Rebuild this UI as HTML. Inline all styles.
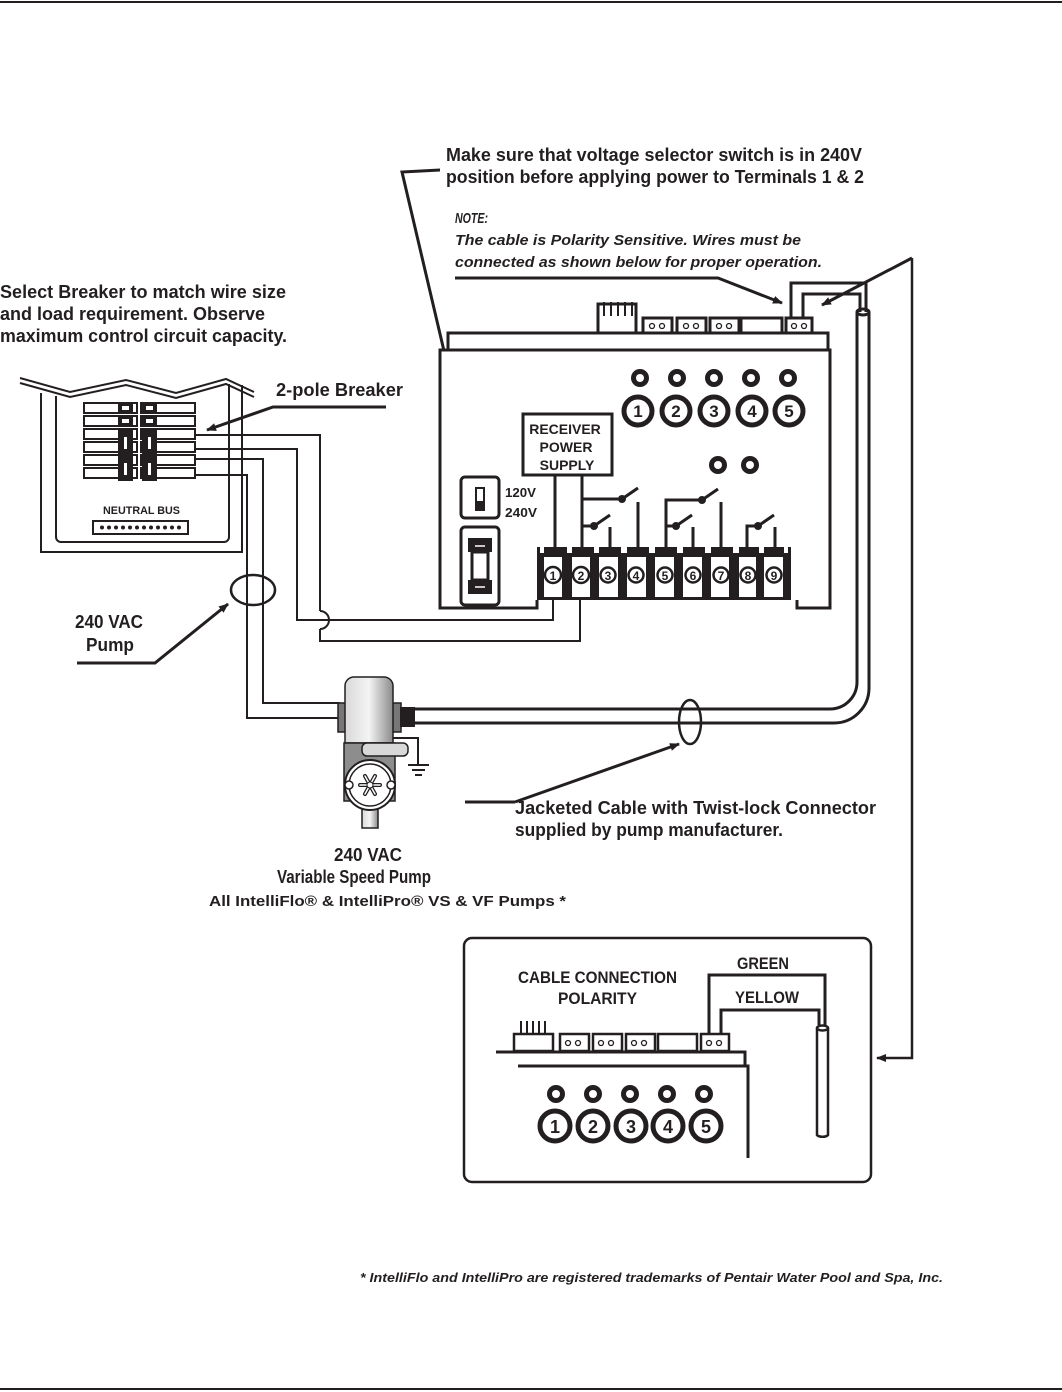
<!DOCTYPE html>
<html><head><meta charset="utf-8"><style>
html,body{margin:0;padding:0;background:#fff}
svg{display:block}
text{font-family:"Liberation Sans Narrow","Liberation Sans",sans-serif;font-weight:bold;fill:#231f20}
</style></head><body>
<svg width="1062" height="1392" viewBox="0 0 1062 1392" xmlns="http://www.w3.org/2000/svg">
<defs>
<marker id="ar" markerWidth="10" markerHeight="8" refX="9" refY="4" orient="auto" markerUnits="userSpaceOnUse"><path d="M0,0 L10,4 L0,8 Z" fill="#231f20"/></marker>
<linearGradient id="pg" x1="0" x2="1"><stop offset="0" stop-color="#d9d9d9"/><stop offset="0.5" stop-color="#f4f4f4"/><stop offset="1" stop-color="#8a8a8a"/></linearGradient>
</defs>
<g stroke="#231f20" fill="none">
<line x1="0" y1="2" x2="1062" y2="2" stroke-width="2"/>
<line x1="0" y1="1389" x2="1062" y2="1389" stroke-width="2"/>
</g>

<text x="446" y="161" font-size="18" textLength="416" lengthAdjust="spacingAndGlyphs">Make sure that voltage selector switch is in 240V</text>
<text x="446" y="183" font-size="18" textLength="418" lengthAdjust="spacingAndGlyphs">position before applying power to Terminals 1 &amp; 2</text>
<text x="455" y="223" font-size="15" font-style="italic" textLength="33" lengthAdjust="spacingAndGlyphs">NOTE:</text>
<text x="455" y="245" font-size="15" font-style="italic" textLength="346" lengthAdjust="spacingAndGlyphs">The cable is Polarity Sensitive. Wires must be</text>
<text x="455" y="267" font-size="15" font-style="italic" textLength="367" lengthAdjust="spacingAndGlyphs">connected as shown below for proper operation.</text>
<text x="0" y="298" font-size="18" textLength="286" lengthAdjust="spacingAndGlyphs">Select Breaker to match wire size</text>
<text x="0" y="320" font-size="18" textLength="265" lengthAdjust="spacingAndGlyphs">and load requirement.  Observe</text>
<text x="0" y="342" font-size="18" textLength="287" lengthAdjust="spacingAndGlyphs">maximum control circuit capacity.</text>
<text x="276" y="396" font-size="18" textLength="127" lengthAdjust="spacingAndGlyphs">2-pole Breaker</text>

<g stroke="#231f20" fill="none" stroke-width="3">
<polyline points="440,170 402,172 471,466" marker-end="url(#ar)"/>
<polyline points="455,278 718,278 782,303" marker-end="url(#ar)"/>
<line x1="912" y1="258" x2="822" y2="305" marker-end="url(#ar)"/>
<polyline points="912,258 912,1058 877,1058" marker-end="url(#ar)" stroke-width="2.5"/>
<polyline points="386,407 273,407 207,430" marker-end="url(#ar)"/>
<polyline points="77,663 155,663 228,604" marker-end="url(#ar)"/>
<polyline points="465,802 515,802" />
<line x1="515" y1="802" x2="679" y2="744" marker-end="url(#ar)"/>
</g>

<g stroke="#231f20" fill="none" stroke-width="2">
<polyline points="20,378 70,392 126,380 176,393 226,379 254,392"/>
<polyline points="20,383 70,397 126,385 176,398 226,384 254,397"/>
<polyline points="41,393 41,552 242,552 242,385"/>
<path d="M56,396 V537 a5,5 0 0 0 5,5 H224 a5,5 0 0 0 5,-5 V384"/>
<rect x="93" y="521" width="95" height="13"/>
</g>
<text x="103" y="514" font-size="11" font-family="Liberation Sans" textLength="77" lengthAdjust="spacingAndGlyphs">NEUTRAL BUS</text>
<g fill="#231f20">
<circle cx="102" cy="527.5" r="2"/><circle cx="109" cy="527.5" r="2"/><circle cx="116" cy="527.5" r="2"/><circle cx="123" cy="527.5" r="2"/><circle cx="130" cy="527.5" r="2"/><circle cx="137" cy="527.5" r="2"/><circle cx="144" cy="527.5" r="2"/><circle cx="151" cy="527.5" r="2"/><circle cx="158" cy="527.5" r="2"/><circle cx="165" cy="527.5" r="2"/><circle cx="172" cy="527.5" r="2"/><circle cx="179" cy="527.5" r="2"/>
</g>
<g stroke="#231f20" fill="#fff" stroke-width="2">
<rect x="84" y="403" width="53" height="10"/><rect x="84" y="416" width="53" height="10"/><rect x="84" y="429" width="53" height="10"/><rect x="84" y="442" width="53" height="10"/><rect x="84" y="455" width="53" height="10"/><rect x="84" y="468" width="53" height="10"/>
<rect x="141" y="403" width="54" height="10"/><rect x="141" y="416" width="54" height="10"/><rect x="141" y="429" width="54" height="10"/><rect x="141" y="442" width="54" height="10"/><rect x="141" y="455" width="54" height="10"/><rect x="141" y="468" width="54" height="10"/>
</g>
<g fill="#231f20">
<rect x="118" y="403" width="15" height="10"/><rect x="142" y="403" width="15" height="10"/>
<rect x="118" y="416" width="15" height="10"/><rect x="142" y="416" width="15" height="10"/>
<rect x="118" y="429" width="15" height="52"/><rect x="142" y="429" width="15" height="52"/>
</g>
<g fill="#fff"><rect x="122" y="406" width="7" height="4"/><rect x="146" y="406" width="7" height="4"/><rect x="122" y="419" width="7" height="4"/><rect x="146" y="419" width="7" height="4"/>
<rect x="124" y="437" width="3" height="12"/><rect x="148" y="437" width="3" height="12"/><rect x="124" y="463" width="3" height="12"/><rect x="148" y="463" width="3" height="12"/></g>

<g stroke="#231f20" fill="none" stroke-width="2">
<polyline points="196,435 320,435 320,611"/>
<path d="M320,629 V641 H580 V600"/>
<path d="M320,611 a9,9 0 0 1 0,18"/>
<polyline points="196,449 297,449 297,620 553,620 553,600"/>
<polyline points="196,459 263,459 263,703 340,703"/>
<polyline points="196,475 247,475 247,718 340,718"/>
<ellipse cx="253" cy="590" rx="22" ry="15" stroke-width="2.5"/>
</g>
<text x="109" y="628" font-size="18" text-anchor="middle" textLength="68" lengthAdjust="spacingAndGlyphs">240 VAC</text>
<text x="110" y="651" font-size="18" text-anchor="middle" textLength="48" lengthAdjust="spacingAndGlyphs">Pump</text>

<g stroke="#231f20" fill="#fff" stroke-width="3">
<rect x="448" y="333" width="380" height="17"/>
<polyline points="537,600 537,608 440,608 440,350 830,350 830,608 797,608 797,600"/>
<rect x="598" y="304" width="38" height="29"/>
<rect x="643" y="318" width="29" height="15"/>
<rect x="677" y="318" width="29" height="15"/>
<rect x="710" y="318" width="29" height="15"/>
<rect x="741" y="318" width="41" height="15"/>
<rect x="786" y="318" width="26" height="15"/>
</g>
<g stroke="#231f20" stroke-width="2">
<line x1="604" y1="302" x2="604" y2="316"/><line x1="611" y1="302" x2="611" y2="316"/><line x1="618" y1="302" x2="618" y2="316"/><line x1="625" y1="302" x2="625" y2="316"/><line x1="632" y1="302" x2="632" y2="316"/>
</g>
<g stroke="#231f20" fill="#fff" stroke-width="1.3">
<circle cx="652" cy="326" r="2.5"/><circle cx="662" cy="326" r="2.5"/><circle cx="686" cy="326" r="2.5"/><circle cx="696" cy="326" r="2.5"/><circle cx="719" cy="326" r="2.5"/><circle cx="729" cy="326" r="2.5"/><circle cx="794" cy="326" r="2.5"/><circle cx="804" cy="326" r="2.5"/>
</g>
<g stroke="#231f20" fill="none" stroke-width="3">
<polyline points="791,318 791,283 866,283 866,312"/>
<polyline points="803,318 803,294 860,294 860,312"/>
<path d="M857,312 V682 a27,27 0 0 1 -27,27 H415"/>
<path d="M869,312 V688 a35,35 0 0 1 -35,35 H415"/>
<ellipse cx="863" cy="312" rx="6" ry="3"/>
<ellipse cx="690" cy="722" rx="11" ry="22" stroke-width="2.5"/>
</g>
<g fill="#231f20">
<circle cx="640" cy="378" r="9"/><circle cx="677" cy="378" r="9"/><circle cx="714" cy="378" r="9"/><circle cx="751" cy="378" r="9"/><circle cx="788" cy="378" r="9"/>
<circle cx="718" cy="465" r="9"/><circle cx="750" cy="465" r="9"/>
</g>
<g fill="#fff">
<circle cx="640" cy="378" r="4"/><circle cx="677" cy="378" r="4"/><circle cx="714" cy="378" r="4"/><circle cx="751" cy="378" r="4"/><circle cx="788" cy="378" r="4"/>
<circle cx="718" cy="465" r="4"/><circle cx="750" cy="465" r="4"/>
</g>
<g stroke="#231f20" fill="#fff" stroke-width="5">
<circle cx="638" cy="411" r="14"/><circle cx="676" cy="411" r="14"/><circle cx="714" cy="411" r="14"/><circle cx="752" cy="411" r="14"/><circle cx="789" cy="411" r="14"/>
</g>
<g font-size="17" text-anchor="middle"><text x="638" y="417">1</text><text x="676" y="417">2</text><text x="714" y="417">3</text><text x="752" y="417">4</text><text x="789" y="417">5</text></g>

<rect x="523" y="414" width="89" height="61" stroke="#231f20" stroke-width="3" fill="#fff"/>
<g font-size="14" text-anchor="middle"><text x="565" y="434">RECEIVER</text><text x="566" y="452">POWER</text><text x="567" y="470">SUPPLY</text></g>
<text x="505" y="497" font-size="13" textLength="31" lengthAdjust="spacingAndGlyphs">120V</text>
<text x="505" y="517" font-size="13" textLength="32" lengthAdjust="spacingAndGlyphs">240V</text>
<g stroke="#231f20" fill="#fff" stroke-width="3">
<rect x="461" y="477" width="38" height="41" rx="4"/>
<rect x="461" y="527" width="38" height="78" rx="4"/>
</g>
<rect x="475" y="487" width="10" height="24" fill="#231f20"/><rect x="477" y="489" width="6" height="12" fill="#fff"/>
<rect x="468" y="538" width="24" height="14" fill="#231f20"/><rect x="468" y="580" width="24" height="14" fill="#231f20"/>
<rect x="472" y="552" width="16" height="28" stroke="#231f20" stroke-width="3" fill="#fff"/>
<line x1="475" y1="546" x2="485" y2="546" stroke="#fff" stroke-width="1.5"/><line x1="475" y1="587" x2="485" y2="587" stroke="#fff" stroke-width="1.5"/>

<g fill="#231f20"><rect x="537" y="547" width="254" height="53"/></g>
<g fill="#fff">
<rect x="544" y="557" width="18" height="40"/><rect x="572" y="557" width="18" height="40"/><rect x="599" y="557" width="19" height="40"/><rect x="627" y="557" width="19" height="40"/><rect x="655" y="557" width="19" height="40"/><rect x="683" y="557" width="19" height="40"/><rect x="711" y="557" width="18" height="40"/><rect x="739" y="557" width="17" height="40"/><rect x="764" y="557" width="19" height="40"/>
</g>
<g fill="#fff">
<rect x="540" y="547" width="4" height="6"/><rect x="567" y="547" width="5" height="6"/><rect x="594" y="547" width="5" height="6"/><rect x="621" y="547" width="6" height="6"/><rect x="649" y="547" width="6" height="6"/><rect x="677" y="547" width="6" height="6"/><rect x="705" y="547" width="6" height="6"/><rect x="733" y="547" width="6" height="6"/><rect x="759" y="547" width="5" height="6"/><rect x="784" y="547" width="4" height="6"/>
</g>
<g fill="#fff" stroke="#231f20" stroke-width="2.5"><circle cx="553" cy="575" r="8"/><circle cx="581" cy="575" r="8"/><circle cx="608" cy="575" r="7.5"/><circle cx="636" cy="575" r="7.5"/><circle cx="665" cy="575" r="7.5"/><circle cx="693" cy="575" r="7.5"/><circle cx="721" cy="575" r="7.5"/><circle cx="748" cy="575" r="7.5"/><circle cx="774" cy="575" r="7.5"/></g>
<g font-size="12" text-anchor="middle"><text x="553" y="580">1</text><text x="581" y="580">2</text><text x="608" y="580">3</text><text x="636" y="580">4</text><text x="665" y="580">5</text><text x="693" y="580">6</text><text x="721" y="580">7</text><text x="748" y="580">8</text><text x="774" y="580">9</text></g>
<g stroke="#231f20" fill="none" stroke-width="3">
<line x1="555" y1="475" x2="555" y2="547"/>
<line x1="582" y1="475" x2="582" y2="547"/>
<polyline points="582,499 622,499"/><line x1="622" y1="499" x2="638" y2="488"/>
<polyline points="582,526 594,526"/><line x1="594" y1="526" x2="610" y2="515"/>
<line x1="610" y1="527" x2="610" y2="547"/><line x1="638" y1="502" x2="638" y2="547"/>
<polyline points="666,547 666,500 702,500"/><line x1="702" y1="500" x2="718" y2="489"/>
<polyline points="666,526 676,526"/><line x1="676" y1="526" x2="692" y2="515"/>
<line x1="693" y1="527" x2="693" y2="547"/><line x1="721" y1="502" x2="721" y2="547"/>
<polyline points="747,547 747,526 758,526"/><line x1="758" y1="526" x2="774" y2="515"/>
<line x1="775" y1="527" x2="775" y2="547"/>
</g>
<g fill="#231f20"><circle cx="622" cy="499" r="4"/><circle cx="594" cy="526" r="4"/><circle cx="702" cy="500" r="4"/><circle cx="676" cy="526" r="4"/><circle cx="758" cy="526" r="4"/></g>

<g stroke="#231f20" stroke-width="1.5">
<rect x="338" y="703" width="9" height="29" fill="#777"/>
<rect x="392" y="703" width="9" height="29" fill="#777"/>
<path d="M345,743 V686 a9,9 0 0 1 9,-9 H384 a9,9 0 0 1 9,9 V743 Z" fill="url(#pg)"/>
<rect x="344" y="743" width="51" height="58" fill="#8d8d8d"/>
<rect x="362" y="743" width="46" height="13" rx="5" fill="#d8d8d8"/>
<rect x="362" y="805" width="16" height="23" fill="url(#pg)"/>
<circle cx="370" cy="785" r="25" fill="#fff" stroke-width="2"/>
<circle cx="370" cy="785" r="21" fill="#fff"/>
<circle cx="349" cy="785" r="4" fill="#fff"/><circle cx="391" cy="785" r="4" fill="#fff"/>
</g>
<g stroke="#231f20" stroke-width="4" stroke-linecap="round">
<line x1="360" y1="785" x2="380" y2="785"/><line x1="365" y1="776" x2="375" y2="794"/><line x1="375" y1="776" x2="365" y2="794"/>
</g>
<g stroke="#fff" stroke-width="1.5" stroke-linecap="round">
<line x1="360" y1="785" x2="380" y2="785"/><line x1="365" y1="776" x2="375" y2="794"/><line x1="375" y1="776" x2="365" y2="794"/>
</g>
<circle cx="370" cy="785" r="3" fill="#fff" stroke="#231f20"/>
<rect x="400" y="707" width="15" height="20" fill="#231f20"/>
<g stroke="#231f20" fill="none" stroke-width="2">
<polyline points="393,738 418,738 418,765"/>
<line x1="408" y1="765" x2="429" y2="765"/><line x1="412" y1="770" x2="425" y2="770"/><line x1="415" y1="775" x2="422" y2="775"/>
</g>

<text x="515" y="814" font-size="18" textLength="361" lengthAdjust="spacingAndGlyphs">Jacketed Cable with Twist-lock Connector</text>
<text x="515" y="836" font-size="18" textLength="268" lengthAdjust="spacingAndGlyphs">supplied by pump manufacturer.</text>
<text x="368" y="861" font-size="18" text-anchor="middle" textLength="68" lengthAdjust="spacingAndGlyphs">240 VAC</text>
<text x="354" y="883" font-size="18" text-anchor="middle" textLength="154" lengthAdjust="spacingAndGlyphs">Variable Speed Pump</text>
<text x="209" y="906" font-size="15" style="font-family:'Liberation Sans',sans-serif" textLength="357" lengthAdjust="spacingAndGlyphs">All IntelliFlo® &amp; IntelliPro®  VS &amp; VF Pumps *</text>

<rect x="464" y="938" width="407" height="244" rx="8" stroke="#231f20" stroke-width="2.5" fill="#fff"/>
<text x="518" y="983" font-size="17" textLength="159" lengthAdjust="spacingAndGlyphs">CABLE CONNECTION</text>
<text x="558" y="1004" font-size="17" textLength="79" lengthAdjust="spacingAndGlyphs">POLARITY</text>
<text x="737" y="969" font-size="17" textLength="52" lengthAdjust="spacingAndGlyphs">GREEN</text>
<text x="735" y="1003" font-size="17" textLength="64" lengthAdjust="spacingAndGlyphs">YELLOW</text>
<g stroke="#231f20" fill="none" stroke-width="3">
<polyline points="496,1052 745,1052 745,1066"/>
<polyline points="518,1066 748,1066 748,1158"/>
<polyline points="709,1033 709,975 825,975 825,1025"/>
<polyline points="721,1033 721,1010 819,1010 819,1025"/>
</g>
<g stroke="#231f20" fill="#fff" stroke-width="2.5">
<rect x="514" y="1034" width="39" height="17"/>
<rect x="560" y="1034" width="29" height="17"/><rect x="593" y="1034" width="29" height="17"/><rect x="626" y="1034" width="29" height="17"/>
<rect x="658" y="1034" width="39" height="17"/><rect x="701" y="1034" width="28" height="17"/>
<path d="M817,1028 V1135 a6,3 0 0 0 11,0 V1028" />
<ellipse cx="822.5" cy="1028" rx="5.5" ry="2.5"/>
</g>
<g stroke="#231f20" stroke-width="2"><line x1="521" y1="1021" x2="521" y2="1034"/><line x1="527" y1="1021" x2="527" y2="1034"/><line x1="533" y1="1021" x2="533" y2="1034"/><line x1="539" y1="1021" x2="539" y2="1034"/><line x1="545" y1="1021" x2="545" y2="1034"/></g>
<g stroke="#231f20" fill="#fff" stroke-width="1.3">
<circle cx="568" cy="1043" r="2.5"/><circle cx="578" cy="1043" r="2.5"/><circle cx="601" cy="1043" r="2.5"/><circle cx="611" cy="1043" r="2.5"/><circle cx="634" cy="1043" r="2.5"/><circle cx="644" cy="1043" r="2.5"/><circle cx="709" cy="1043" r="2.5"/><circle cx="719" cy="1043" r="2.5"/>
</g>
<g fill="#231f20"><circle cx="556" cy="1094" r="9"/><circle cx="593" cy="1094" r="9"/><circle cx="630" cy="1094" r="9"/><circle cx="667" cy="1094" r="9"/><circle cx="704" cy="1094" r="9"/></g>
<g fill="#fff"><circle cx="556" cy="1094" r="4"/><circle cx="593" cy="1094" r="4"/><circle cx="630" cy="1094" r="4"/><circle cx="667" cy="1094" r="4"/><circle cx="704" cy="1094" r="4"/></g>
<g stroke="#231f20" fill="#fff" stroke-width="5">
<circle cx="555" cy="1126" r="15"/><circle cx="593" cy="1126" r="15"/><circle cx="631" cy="1126" r="15"/><circle cx="668" cy="1126" r="15"/><circle cx="706" cy="1126" r="15"/>
</g>
<g font-size="18" text-anchor="middle"><text x="555" y="1133">1</text><text x="593" y="1133">2</text><text x="631" y="1133">3</text><text x="668" y="1133">4</text><text x="706" y="1133">5</text></g>

<text x="360" y="1282" font-size="13" font-style="italic" textLength="583" lengthAdjust="spacingAndGlyphs">* IntelliFlo and IntelliPro are registered trademarks of Pentair Water Pool and Spa, Inc.</text>
</svg>
</body></html>
